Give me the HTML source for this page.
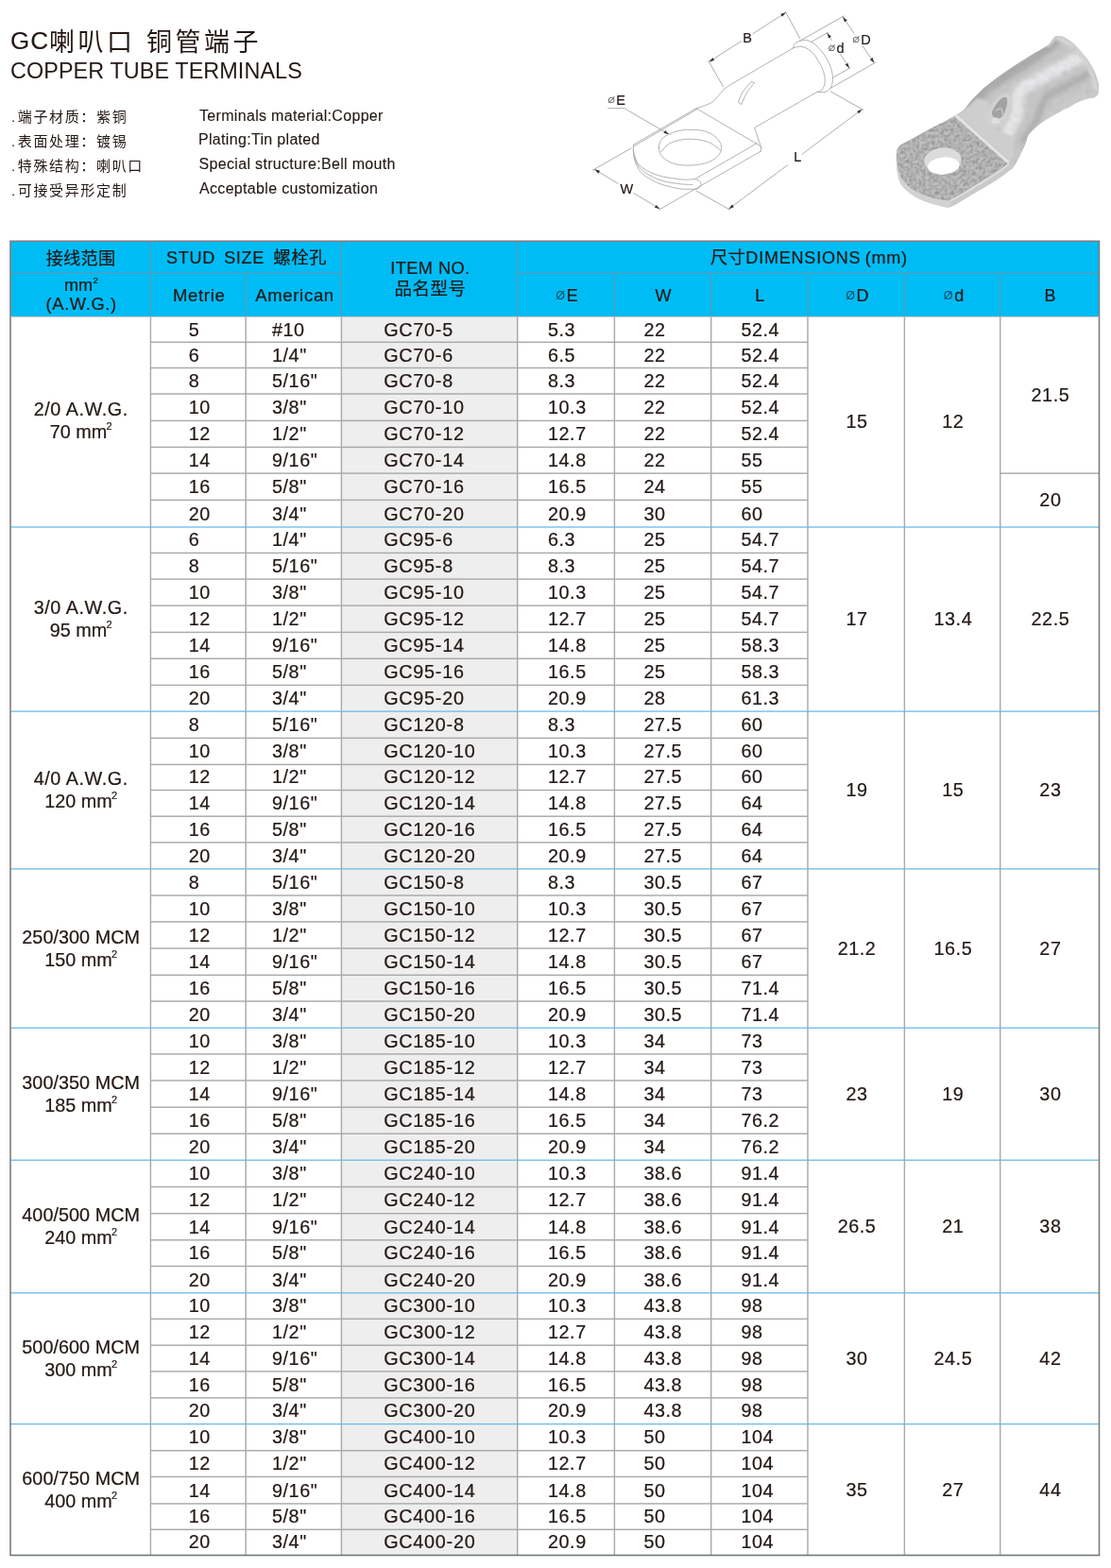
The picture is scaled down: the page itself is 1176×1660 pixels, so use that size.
<!DOCTYPE html>
<html lang="zh-CN">
<head>
<meta charset="utf-8">
<title>GC喇叭口 铜管端子 COPPER TUBE TERMINALS</title>
<style>
html,body{margin:0;padding:0;background:#ffffff;}
body{width:1176px;height:1660px;position:relative;overflow:hidden;font-family:"Liberation Sans","Noto Sans CJK SC",sans-serif;color:#231815;}
svg.grid{position:absolute;left:0;top:0;}
.t{position:absolute;white-space:nowrap;line-height:1;-webkit-text-stroke:0.22px #231815;}
.c{font-size:19.8px;letter-spacing:0.55px;}
.h{font-size:18.5px;letter-spacing:0.7px;}
.t sup{font-size:11px;vertical-align:baseline;position:relative;top:-9.3px;letter-spacing:0;margin-left:-0.6px;line-height:0;}
.dia{font-size:12.5px;position:relative;top:-2px;margin-right:1.6px;letter-spacing:0;-webkit-text-stroke:0;color:#0d4a63;}
.dia2{font-size:9.5px;position:relative;top:-2px;margin-right:1.2px;letter-spacing:0;-webkit-text-stroke:0;color:#555;line-height:0;}
.cj{font-family:"Liberation Sans","Noto Sans CJK SC",sans-serif;line-height:0;-webkit-text-stroke:0;}
.dia,.t sup{line-height:0;}
</style>
</head>
<body>
<svg class="grid" width="1176" height="250" viewBox="0 0 1176 250" fill="none" stroke-linecap="round" stroke-linejoin="round">
<line x1="750.54" y1="65.48" x2="784.69" y2="43.55" stroke="#989898" stroke-width="0.8"/>
<line x1="796.88" y1="35.72" x2="831.84" y2="13.27" stroke="#989898" stroke-width="0.8"/>
<polygon points="750.54,65.48 756.17,63.88 754.34,61.02" fill="#3a3230"/>
<polygon points="831.84,13.27 826.21,14.86 828.04,17.72" fill="#3a3230"/>
<line x1="749.86" y1="64.29" x2="765.51" y2="91.84" stroke="#989898" stroke-width="0.8"/>
<line x1="831.16" y1="12.07" x2="846.80" y2="40.82" stroke="#989898" stroke-width="0.8"/>
<line x1="892.21" y1="17.86" x2="904.15" y2="35.43" stroke="#989898" stroke-width="0.8"/>
<line x1="912.77" y1="48.12" x2="925.37" y2="66.67" stroke="#989898" stroke-width="0.8"/>
<polygon points="892.21,17.86 893.95,23.44 896.76,21.53" fill="#3a3230"/>
<polygon points="925.37,66.67 923.63,61.08 920.82,62.99" fill="#3a3230"/>
<line x1="846.80" y1="43.20" x2="893.06" y2="17.01" stroke="#989898" stroke-width="0.8"/>
<line x1="879.46" y1="93.20" x2="926.39" y2="66.33" stroke="#989898" stroke-width="0.8"/>
<line x1="875.54" y1="34.86" x2="880.24" y2="42.35" stroke="#989898" stroke-width="0.8"/>
<line x1="889.63" y1="57.31" x2="899.01" y2="72.28" stroke="#989898" stroke-width="0.8"/>
<polygon points="875.54,34.86 877.08,40.51 879.96,38.70" fill="#3a3230"/>
<polygon points="899.01,72.28 897.48,66.63 894.60,68.44" fill="#3a3230"/>
<line x1="858.20" y1="44.73" x2="876.39" y2="34.35" stroke="#989898" stroke-width="0.8"/>
<line x1="882.01" y1="81.97" x2="899.86" y2="71.94" stroke="#989898" stroke-width="0.8"/>
<line x1="912.62" y1="115.65" x2="849.05" y2="163.19" stroke="#989898" stroke-width="0.8"/>
<line x1="833.51" y1="174.81" x2="771.36" y2="221.29" stroke="#989898" stroke-width="0.8"/>
<polygon points="912.62,115.65 907.12,117.64 909.15,120.36" fill="#3a3230"/>
<polygon points="771.36,221.29 776.86,219.30 774.83,216.58" fill="#3a3230"/>
<line x1="879.46" y1="96.94" x2="913.81" y2="116.33" stroke="#989898" stroke-width="0.8"/>
<line x1="737.35" y1="202.24" x2="772.38" y2="221.97" stroke="#989898" stroke-width="0.8"/>
<line x1="629.35" y1="179.29" x2="654.27" y2="194.41" stroke="#989898" stroke-width="0.8"/>
<line x1="670.88" y1="204.49" x2="698.57" y2="221.29" stroke="#989898" stroke-width="0.8"/>
<polygon points="629.35,179.29 633.26,183.64 635.02,180.74" fill="#3a3230"/>
<polygon points="698.57,221.29 694.67,216.93 692.90,219.84" fill="#3a3230"/>
<line x1="667.96" y1="157.01" x2="627.48" y2="180.14" stroke="#989898" stroke-width="0.8"/>
<line x1="805.37" y1="160.07" x2="697.55" y2="222.14" stroke="#a0a0a0" stroke-width="0.8"/>
<path d="M643.81,114.66 L660.82,114.66 L707.59,141.87" stroke="#989898" stroke-width="0.8" fill="none"/>
<polygon points="708.10,142.21 704.11,137.92 702.40,140.86" fill="#3a3230"/>
<line x1="670.51" y1="153.27" x2="737.01" y2="114.66" stroke="#a0a0a0" stroke-width="0.8"/>
<line x1="671.02" y1="154.80" x2="737.69" y2="115.68" stroke="#a0a0a0" stroke-width="0.8"/>
<line x1="737.01" y1="114.66" x2="800.61" y2="152.07" stroke="#a0a0a0" stroke-width="0.8"/>
<line x1="800.61" y1="152.07" x2="735.65" y2="189.49" stroke="#a0a0a0" stroke-width="0.8"/>
<path d="M670.51,153.27 C670.57,154.63 669.77,157.80 670.85,161.43 C671.93,165.06 672.69,171.01 676.97,175.03 C681.25,179.06 689.02,183.08 696.53,185.58 C704.04,188.07 715.52,189.35 722.04,190.00 C728.56,190.65 733.38,189.57 735.65,189.49" stroke="#a0a0a0" stroke-width="0.8" fill="none"/>
<path d="M735.65,189.49 C736.44,189.83 739.36,190.60 740.41,191.53 C741.46,192.47 741.94,193.94 741.94,195.10 C741.94,196.26 741.23,197.65 740.41,198.50 C739.59,199.35 737.57,199.92 737.01,200.20" stroke="#a0a0a0" stroke-width="0.8" fill="none"/>
<path d="M670.51,158.03 C670.74,160.01 670.37,165.68 671.87,169.93 C673.37,174.18 675.41,179.57 679.52,183.54 C683.63,187.51 690.01,191.05 696.53,193.74 C703.05,196.43 711.89,198.62 718.64,199.69 C725.39,200.77 733.95,200.12 737.01,200.20" stroke="#a0a0a0" stroke-width="0.8" fill="none"/>
<path d="M671.02,164.83 C672.15,167.10 673.57,174.24 677.82,178.44 C682.07,182.63 689.73,187.31 696.53,190.00 C703.33,192.69 712.55,193.68 718.64,194.59 C724.73,195.50 730.69,195.30 733.10,195.44" stroke="#a0a0a0" stroke-width="0.8" fill="none"/>
<path d="M697.38,156.33 C697.38,152.93 698.66,148.96 701.63,146.12 C704.61,143.29 710.42,140.79 715.24,139.32 C720.06,137.85 725.16,137.28 730.54,137.28 C735.93,137.28 742.73,137.70 747.55,139.32 C752.37,140.94 756.76,144.14 759.46,146.97 C762.15,149.81 763.71,153.21 763.71,156.33 C763.71,159.44 762.15,162.99 759.46,165.68 C756.76,168.37 752.37,170.92 747.55,172.48 C742.73,174.04 736.21,174.89 730.54,175.03 C724.88,175.18 718.36,174.75 713.54,173.33 C708.72,171.92 704.33,169.37 701.63,166.53 C698.94,163.70 697.38,159.73 697.38,156.33Z" stroke="#a0a0a0" stroke-width="0.8" fill="none"/>
<path d="M699.59,160.58 C701.07,159.16 704.69,154.20 708.44,152.07 C712.18,149.95 717.51,148.59 722.04,147.82 C726.58,147.06 730.83,146.97 735.65,147.48 C740.46,147.99 746.47,148.99 750.95,150.88 C755.43,152.78 760.59,157.55 762.52,158.88" stroke="#a0a0a0" stroke-width="0.8" fill="none"/>
<path d="M865.00,97.28 L798.67,135.20 L805.71,156.33 L805.37,160.07" stroke="#a0a0a0" stroke-width="0.8" fill="none"/>
<path d="M800.61,152.07 C801.12,152.36 802.82,153.01 803.67,153.78 C804.52,154.54 805.37,156.18 805.71,156.67" stroke="#a0a0a0" stroke-width="0.8" fill="none"/>
<path d="M737.01,114.66 C738.48,114.18 742.96,112.90 745.85,111.77 C748.74,110.63 751.80,109.73 754.35,107.86 C756.90,105.99 759.30,102.65 761.16,100.54 C763.02,98.44 763.65,96.97 765.51,95.24 C767.37,93.50 771.18,90.99 772.31,90.14 L840.00,50.68" stroke="#a0a0a0" stroke-width="0.8" fill="none"/>
<path d="M839.49,50.68 C839.91,49.83 840.20,46.94 842.04,45.58 C843.88,44.22 847.57,42.63 850.54,42.52 C853.52,42.40 856.64,42.86 859.90,44.90 C863.16,46.94 867.07,50.91 870.10,54.76 C873.13,58.62 876.20,63.55 878.10,68.03 C879.99,72.51 881.21,77.66 881.50,81.63 C881.78,85.60 880.93,89.29 879.80,91.84 C878.66,94.39 876.73,95.98 874.69,96.94 C872.65,97.90 869.17,97.56 867.55,97.62 C865.94,97.68 865.43,97.34 865.00,97.28" stroke="#a0a0a0" stroke-width="0.8" fill="none"/>
<path d="M840.00,50.68 C841.47,50.45 845.67,48.64 848.84,49.32 C852.02,50.00 855.93,51.87 859.05,54.76 C862.17,57.65 865.34,62.76 867.55,66.67 C869.76,70.58 871.41,74.60 872.31,78.23 C873.22,81.86 873.36,85.66 872.99,88.44 C872.62,91.21 871.29,93.42 870.10,94.90 C868.91,96.37 866.56,96.88 865.85,97.28" stroke="#a0a0a0" stroke-width="0.8" fill="none"/>
<path d="M781.67,107.99 C782.38,106.29 783.65,101.39 785.92,97.79 C788.19,94.19 793.71,88.29 795.27,86.39 L798.67,87.59  C797.26,89.43 792.44,94.87 790.17,98.64 C787.90,102.41 785.92,108.28 785.07,110.20Z" stroke="#a0a0a0" stroke-width="0.8" fill="none"/>
</svg>
<svg class="grid" width="1176" height="250" viewBox="0 0 1176 250">
<defs>
<filter id="pb" x="-5%" y="-5%" width="110%" height="110%"><feGaussianBlur stdDeviation="0.55"/></filter>
<filter id="pb1" x="-20%" y="-20%" width="140%" height="140%"><feGaussianBlur stdDeviation="1.1"/></filter>
<filter id="pb2" x="-30%" y="-30%" width="160%" height="160%"><feGaussianBlur stdDeviation="2.4"/></filter>
<filter id="pn" x="0" y="0" width="100%" height="100%" color-interpolation-filters="sRGB">
 <feTurbulence type="fractalNoise" baseFrequency="0.3" numOctaves="2" seed="11"/>
 <feColorMatrix type="matrix" values="0 0 0 0 0.56  0 0 0 0 0.56  0 0 0 0 0.56  1.5 1.5 0 0 -1.15"/>
 <feGaussianBlur stdDeviation="0.5"/>
</filter>
<filter id="pnl" x="0" y="0" width="100%" height="100%" color-interpolation-filters="sRGB">
 <feTurbulence type="fractalNoise" baseFrequency="0.2" numOctaves="2" seed="29"/>
 <feColorMatrix type="matrix" values="0 0 0 0 0.86  0 0 0 0 0.86  0 0 0 0 0.86  -1.6 -1.6 0 0 1.35"/>
 <feGaussianBlur stdDeviation="0.6"/>
</filter>
<filter id="pn2" x="0" y="0" width="100%" height="100%" color-interpolation-filters="sRGB">
 <feTurbulence type="fractalNoise" baseFrequency="0.2" numOctaves="2" seed="5"/>
 <feColorMatrix type="matrix" values="0 0 0 0 0.6  0 0 0 0 0.6  0 0 0 0 0.6  1.3 1.3 0 0 -1.1"/>
 <feGaussianBlur stdDeviation="0.8"/>
</filter>
<linearGradient id="pgb" gradientUnits="userSpaceOnUse" x1="1090" y1="62" x2="1126" y2="122">
 <stop offset="0" stop-color="#bcbcbc"/><stop offset="0.22" stop-color="#bababa"/>
 <stop offset="0.45" stop-color="#dcdcde"/><stop offset="0.6" stop-color="#d4d4d6"/>
 <stop offset="0.75" stop-color="#bdbdbd"/><stop offset="1" stop-color="#c8c8c8"/>
</linearGradient>
<clipPath id="pc"><path d="M1011.4,122.1 C1008.3,124.1 1005.1,125.8 1001.2,127.9 C997.4,129.9 992.7,132.0 988.5,134.2 C984.2,136.5 980.0,138.9 975.7,141.2 C971.5,143.6 966.7,146.2 963.0,148.3 C959.2,150.3 955.6,152.0 953.4,153.6 C951.2,155.3 950.4,155.9 949.6,158.2 C948.8,160.5 948.7,163.5 948.7,167.4 C948.7,171.3 949.1,177.2 949.7,181.4 C950.3,185.6 950.8,189.2 952.5,192.7 C954.2,196.1 956.9,199.2 960.2,202.1 C963.4,205.0 967.8,207.8 971.9,210.0 C976.0,212.2 980.4,213.7 984.6,215.1 C988.9,216.5 993.9,217.7 997.4,218.4 C1000.9,219.1 1002.5,220.1 1005.7,219.3 C1008.9,218.5 1011.5,216.4 1016.5,213.6 C1021.5,210.7 1029.3,206.0 1035.7,202.1 C1042.0,198.2 1049.5,193.8 1054.8,190.4 C1060.1,186.9 1064.4,183.9 1067.6,181.4 C1070.7,179.0 1070.8,180.2 1073.7,175.6 C1076.6,171.0 1082.2,159.5 1084.8,153.9 C1087.4,148.3 1086.3,145.9 1089.4,141.8 C1092.6,137.6 1097.1,133.7 1103.6,129.2 C1110.2,124.7 1124.7,116.8 1128.7,114.6 C1132.8,112.3 1126.0,116.7 1128.0,115.7 C1130.0,114.6 1137.0,110.1 1140.8,108.3 C1144.6,106.4 1148.0,105.3 1151.0,104.4 C1154.0,103.5 1156.8,103.7 1158.7,102.9 C1160.5,102.1 1161.2,101.3 1162.0,99.7 C1162.7,98.1 1163.2,95.6 1163.2,93.3 C1163.3,91.1 1163.0,89.2 1162.2,86.3 C1161.5,83.5 1160.3,79.7 1158.7,76.1 C1157.0,72.5 1154.8,68.5 1152.3,64.6 C1149.7,60.8 1146.3,56.5 1143.3,53.2 C1140.4,49.8 1137.4,46.8 1134.4,44.5 C1131.4,42.2 1128.3,40.2 1125.5,39.1 C1122.7,38.1 1119.5,37.7 1117.6,38.2 C1115.7,38.8 1115.3,40.7 1114.0,42.3 C1112.7,43.9 1111.5,46.2 1109.5,47.8 C1107.6,49.4 1105.8,50.2 1102.5,52.1 C1099.2,54.1 1094.0,57.0 1089.8,59.5 C1085.5,62.1 1081.3,64.7 1077.0,67.4 C1072.8,70.2 1068.5,73.1 1064.3,76.1 C1060.0,79.1 1055.8,82.1 1051.5,85.3 C1047.3,88.5 1040.9,93.8 1038.8,95.5 C1036.6,97.2 1040.5,94.0 1038.8,95.7 C1037.0,97.5 1031.5,102.8 1028.3,106.2 C1025.2,109.6 1022.8,113.6 1020.0,116.2 C1017.1,118.9 1014.6,120.2 1011.4,122.1Z"/></clipPath>
<clipPath id="pcp"><path d="M1011.4,122.1 C1009.7,123.1 1005.1,125.8 1001.2,127.9 C997.4,129.9 992.7,132.0 988.5,134.2 C984.2,136.5 980.0,138.9 975.7,141.2 C971.5,143.6 966.7,146.2 963.0,148.3 C959.2,150.3 955.6,152.0 953.4,153.6 C951.2,155.3 950.2,157.4 949.6,158.2  C949.5,159.9 948.9,164.4 949.2,168.0 C949.4,171.7 949.9,176.3 951.0,180.2 C952.1,184.0 953.1,187.6 955.8,191.1 C958.6,194.7 962.8,198.7 967.4,201.6 C972.0,204.5 978.4,206.8 983.4,208.5 C988.4,210.2 993.6,211.1 997.4,211.8 C1001.2,212.4 1004.6,212.3 1006.1,212.4 L1021.6,203.8 L1042.0,191.4 L1058.6,180.9 L1067.9,173.4Z"/></clipPath>
</defs>
<g filter="url(#pb)">
<path d="M1011.4,122.1 C1008.3,124.1 1005.1,125.8 1001.2,127.9 C997.4,129.9 992.7,132.0 988.5,134.2 C984.2,136.5 980.0,138.9 975.7,141.2 C971.5,143.6 966.7,146.2 963.0,148.3 C959.2,150.3 955.6,152.0 953.4,153.6 C951.2,155.3 950.4,155.9 949.6,158.2 C948.8,160.5 948.7,163.5 948.7,167.4 C948.7,171.3 949.1,177.2 949.7,181.4 C950.3,185.6 950.8,189.2 952.5,192.7 C954.2,196.1 956.9,199.2 960.2,202.1 C963.4,205.0 967.8,207.8 971.9,210.0 C976.0,212.2 980.4,213.7 984.6,215.1 C988.9,216.5 993.9,217.7 997.4,218.4 C1000.9,219.1 1002.5,220.1 1005.7,219.3 C1008.9,218.5 1011.5,216.4 1016.5,213.6 C1021.5,210.7 1029.3,206.0 1035.7,202.1 C1042.0,198.2 1049.5,193.8 1054.8,190.4 C1060.1,186.9 1064.4,183.9 1067.6,181.4 C1070.7,179.0 1070.8,180.2 1073.7,175.6 C1076.6,171.0 1082.2,159.5 1084.8,153.9 C1087.4,148.3 1086.3,145.9 1089.4,141.8 C1092.6,137.6 1097.1,133.7 1103.6,129.2 C1110.2,124.7 1124.7,116.8 1128.7,114.6 C1132.8,112.3 1126.0,116.7 1128.0,115.7 C1130.0,114.6 1137.0,110.1 1140.8,108.3 C1144.6,106.4 1148.0,105.3 1151.0,104.4 C1154.0,103.5 1156.8,103.7 1158.7,102.9 C1160.5,102.1 1161.2,101.3 1162.0,99.7 C1162.7,98.1 1163.2,95.6 1163.2,93.3 C1163.3,91.1 1163.0,89.2 1162.2,86.3 C1161.5,83.5 1160.3,79.7 1158.7,76.1 C1157.0,72.5 1154.8,68.5 1152.3,64.6 C1149.7,60.8 1146.3,56.5 1143.3,53.2 C1140.4,49.8 1137.4,46.8 1134.4,44.5 C1131.4,42.2 1128.3,40.2 1125.5,39.1 C1122.7,38.1 1119.5,37.7 1117.6,38.2 C1115.7,38.8 1115.3,40.7 1114.0,42.3 C1112.7,43.9 1111.5,46.2 1109.5,47.8 C1107.6,49.4 1105.8,50.2 1102.5,52.1 C1099.2,54.1 1094.0,57.0 1089.8,59.5 C1085.5,62.1 1081.3,64.7 1077.0,67.4 C1072.8,70.2 1068.5,73.1 1064.3,76.1 C1060.0,79.1 1055.8,82.1 1051.5,85.3 C1047.3,88.5 1040.9,93.8 1038.8,95.5 C1036.6,97.2 1040.5,94.0 1038.8,95.7 C1037.0,97.5 1031.5,102.8 1028.3,106.2 C1025.2,109.6 1022.8,113.6 1020.0,116.2 C1017.1,118.9 1014.6,120.2 1011.4,122.1Z" fill="#cbcbcb"/>
<g clip-path="url(#pc)">
<path d="M1011.4,122.1 C1008.3,124.1 1005.1,125.8 1001.2,127.9 C997.4,129.9 992.7,132.0 988.5,134.2 C984.2,136.5 980.0,138.9 975.7,141.2 C971.5,143.6 966.7,146.2 963.0,148.3 C959.2,150.3 955.6,152.0 953.4,153.6 C951.2,155.3 950.4,155.9 949.6,158.2 C948.8,160.5 948.7,163.5 948.7,167.4 C948.7,171.3 949.1,177.2 949.7,181.4 C950.3,185.6 950.8,189.2 952.5,192.7 C954.2,196.1 956.9,199.2 960.2,202.1 C963.4,205.0 967.8,207.8 971.9,210.0 C976.0,212.2 980.4,213.7 984.6,215.1 C988.9,216.5 993.9,217.7 997.4,218.4 C1000.9,219.1 1002.5,220.1 1005.7,219.3 C1008.9,218.5 1011.5,216.4 1016.5,213.6 C1021.5,210.7 1029.3,206.0 1035.7,202.1 C1042.0,198.2 1049.5,193.8 1054.8,190.4 C1060.1,186.9 1064.4,183.9 1067.6,181.4 C1070.7,179.0 1070.8,180.2 1073.7,175.6 C1076.6,171.0 1082.2,159.5 1084.8,153.9 C1087.4,148.3 1086.3,145.9 1089.4,141.8 C1092.6,137.6 1097.1,133.7 1103.6,129.2 C1110.2,124.7 1124.7,116.8 1128.7,114.6 C1132.8,112.3 1126.0,116.7 1128.0,115.7 C1130.0,114.6 1137.0,110.1 1140.8,108.3 C1144.6,106.4 1148.0,105.3 1151.0,104.4 C1154.0,103.5 1156.8,103.7 1158.7,102.9 C1160.5,102.1 1161.2,101.3 1162.0,99.7 C1162.7,98.1 1163.2,95.6 1163.2,93.3 C1163.3,91.1 1163.0,89.2 1162.2,86.3 C1161.5,83.5 1160.3,79.7 1158.7,76.1 C1157.0,72.5 1154.8,68.5 1152.3,64.6 C1149.7,60.8 1146.3,56.5 1143.3,53.2 C1140.4,49.8 1137.4,46.8 1134.4,44.5 C1131.4,42.2 1128.3,40.2 1125.5,39.1 C1122.7,38.1 1119.5,37.7 1117.6,38.2 C1115.7,38.8 1115.3,40.7 1114.0,42.3 C1112.7,43.9 1111.5,46.2 1109.5,47.8 C1107.6,49.4 1105.8,50.2 1102.5,52.1 C1099.2,54.1 1094.0,57.0 1089.8,59.5 C1085.5,62.1 1081.3,64.7 1077.0,67.4 C1072.8,70.2 1068.5,73.1 1064.3,76.1 C1060.0,79.1 1055.8,82.1 1051.5,85.3 C1047.3,88.5 1040.9,93.8 1038.8,95.5 C1036.6,97.2 1040.5,94.0 1038.8,95.7 C1037.0,97.5 1031.5,102.8 1028.3,106.2 C1025.2,109.6 1022.8,113.6 1020.0,116.2 C1017.1,118.9 1014.6,120.2 1011.4,122.1Z" fill="#c8c8c8"/>
<path d="M1028.3,112.1 C1030.5,109.3 1035.3,100.6 1041.3,95.3 C1047.3,89.9 1056.2,85.3 1064.3,79.9 C1072.3,74.6 1081.3,69.1 1089.8,63.4 C1098.3,57.6 1111.0,48.5 1115.3,45.5" fill="none" stroke="#acacac" stroke-width="12" stroke-linecap="round" opacity="1" filter="url(#pb2)"/>
<path d="M1063.9,145.5 C1066.0,141.3 1073.8,128.6 1076.4,120.4 C1079.1,112.3 1074.8,103.1 1079.6,96.5 C1084.3,90.0 1097.0,85.9 1105.1,81.2 C1113.2,76.5 1121.5,72.1 1128.0,68.5 C1134.6,64.9 1141.9,61.0 1144.6,59.5" fill="none" stroke="#e9e9ec" stroke-width="13" stroke-linecap="round" opacity="1" filter="url(#pb2)"/>
<path d="M1082.7,149.7 C1085.2,145.9 1093.2,134.5 1097.4,126.7 C1101.5,118.9 1102.5,108.8 1107.6,102.9 C1112.7,97.0 1120.4,95.7 1128.0,91.4 C1135.7,87.2 1149.3,79.7 1153.6,77.4" fill="none" stroke="#adadad" stroke-width="6" stroke-linecap="round" opacity="1" filter="url(#pb2)"/>
<path d="M1089.0,153.9 C1091.8,150.4 1101.4,138.9 1105.7,133.0 C1110.1,127.0 1109.4,123.0 1115.3,118.2 C1121.1,113.4 1133.6,107.8 1140.8,104.2 C1148.0,100.6 1155.7,97.8 1158.7,96.5" fill="none" stroke="#cdcdcd" stroke-width="7" stroke-linecap="round" opacity="1" filter="url(#pb2)"/>
<path d="M1120.4,40.4 C1122.9,41.8 1131.2,45.1 1135.7,48.7 C1140.2,52.3 1143.8,57.1 1147.2,62.1 C1150.6,67.1 1153.9,73.1 1156.1,78.7 C1158.3,84.2 1159.5,92.5 1160.2,95.3" fill="none" stroke="#d6d6d6" stroke-width="5" stroke-linecap="round" opacity="1" filter="url(#pb1)"/>
<path d="M1117.6,39.1 C1117.0,39.9 1115.3,42.0 1114.0,43.6 C1112.7,45.2 1110.3,47.8 1109.5,48.7" fill="none" stroke="#d8d8d8" stroke-width="3" stroke-linecap="round" opacity="1" filter="url(#pb1)"/>
<g opacity="0.26"><rect x="1010" y="30" width="166" height="150" fill="#888" filter="url(#pn2)"/></g>
<path d="M1011.4,122.1 C1009.7,123.1 1005.1,125.8 1001.2,127.9 C997.4,129.9 992.7,132.0 988.5,134.2 C984.2,136.5 980.0,138.9 975.7,141.2 C971.5,143.6 966.7,146.2 963.0,148.3 C959.2,150.3 955.6,152.0 953.4,153.6 C951.2,155.3 950.2,157.4 949.6,158.2  C949.5,159.9 948.9,164.4 949.2,168.0 C949.4,171.7 949.9,176.3 951.0,180.2 C952.1,184.0 953.1,187.6 955.8,191.1 C958.6,194.7 962.8,198.7 967.4,201.6 C972.0,204.5 978.4,206.8 983.4,208.5 C988.4,210.2 993.6,211.1 997.4,211.8 C1001.2,212.4 1004.6,212.3 1006.1,212.4 L1021.6,203.8 L1042.0,191.4 L1058.6,180.9 L1067.9,173.4Z" fill="#bebebe"/>
<g clip-path="url(#pcp)">
<g opacity="0.85"><rect x="940" y="115" width="150" height="115" filter="url(#pn)"/></g>
<g opacity="0.38"><rect x="940" y="115" width="150" height="115" filter="url(#pnl)"/></g>
</g>
<path d="M949.2,168.0 C949.5,170.1 949.9,176.3 951.0,180.2 C952.1,184.0 953.1,187.6 955.8,191.1 C958.6,194.7 962.8,198.7 967.4,201.6 C972.0,204.5 978.4,206.8 983.4,208.5 C988.4,210.2 993.6,211.1 997.4,211.8 C1001.2,212.4 1004.6,212.3 1006.1,212.4 L1005.7,221.0 L971.9,214.6 L948.9,198.0 L946.4,168.0Z" fill="#d2d2d2"/>
<path d="M1006.1,212.6 L1067.9,173.5 L1074.6,176.3 L1005.7,221.0Z" fill="#cacaca"/>
<path d="M1006.1,212.6 C1008.7,211.1 1015.6,207.4 1021.6,203.9 C1027.6,200.4 1035.9,195.3 1042.0,191.5 C1048.2,187.7 1054.3,184.0 1058.6,181.0 C1062.9,178.0 1066.4,174.8 1067.9,173.5" fill="none" stroke="#e2e2e2" stroke-width="1.5"/>
<path d="M1013.3,122.8 L1022.1,115.2 L1034.6,103.7 L1047.2,107.9 L1047.2,133.0 L1074.4,145.5 L1072.3,166.4 L1068.2,171.0Z" fill="#cecece" filter="url(#pb1)"/>
<path d="M1011.4,122.1 L1067.9,172.5" stroke="#e4e4e4" stroke-width="3" fill="none"/>
<ellipse cx="998.0" cy="169.9" rx="19.8" ry="13.5" fill="#dcdcde" transform="rotate(-4 998.0 169.9)"/>
<ellipse cx="998.7" cy="175.6" rx="16.7" ry="9.2" fill="#ffffff" transform="rotate(-5 998.7 175.6)"/>
<path d="M1044.3,122.0 C1045.8,118.3 1049.2,110.7 1052.5,106.8 C1055.8,102.9 1061.4,99.0 1064.3,98.6 C1067.2,98.2 1069.5,100.9 1070.1,104.4 C1070.7,107.9 1069.2,115.0 1067.8,119.7 C1066.4,124.4 1064.8,130.1 1061.9,132.6 C1059.0,135.1 1053.2,135.5 1050.2,134.9 C1047.2,134.3 1044.6,131.2 1043.6,129.1 C1042.6,126.9 1042.8,125.7 1044.3,122.0Z" fill="#d2d2d2" filter="url(#pb1)"/>
<path d="M1050.2,118.5 C1051.1,115.7 1054.9,109.4 1057.2,106.8 C1059.5,104.2 1062.8,102.6 1064.3,102.8 C1065.8,103.0 1066.4,105.2 1066.2,108.0 C1066.0,110.8 1064.5,116.8 1063.1,119.7 C1061.7,122.6 1059.5,124.9 1057.7,125.6 C1055.9,126.3 1053.3,125.1 1052.1,123.9 C1050.8,122.7 1049.3,121.3 1050.2,118.5Z" fill="#a2a2a2" filter="url(#pb)"/>
<path d="M1053.7,117.3 C1054.7,116.9 1058.2,114.2 1059.6,115.0 C1061.0,115.8 1061.5,120.8 1061.9,122.0" fill="none" stroke="#c4c4c4" stroke-width="1.6" filter="url(#pb)"/>
<ellipse cx="1053.7" cy="127.9" rx="4.6" ry="3.4" fill="#dedede" filter="url(#pb)"/>
</g>
</g>
</svg>
<svg class="grid" width="1176" height="1660" viewBox="0 0 1176 1660" shape-rendering="crispEdges">
<rect x="11.00" y="255.30" width="1152.50" height="79.70" fill="#00bcf5"/>
<rect x="361.40" y="335.00" width="186.30" height="1311.50" fill="#eeeeee"/>
</svg>
<svg class="grid" width="1176" height="1660" viewBox="0 0 1176 1660">
<rect x="11.00" y="288.50" width="350.40" height="1.20" fill="#5f98b0"/>
<rect x="547.70" y="288.50" width="615.80" height="1.20" fill="#5f98b0"/>
<rect x="158.80" y="255.30" width="1.20" height="79.70" fill="#5f98b0"/>
<rect x="360.80" y="255.30" width="1.20" height="79.70" fill="#5f98b0"/>
<rect x="547.10" y="255.30" width="1.20" height="79.70" fill="#5f98b0"/>
<rect x="259.60" y="289.10" width="1.20" height="45.90" fill="#5f98b0"/>
<rect x="649.80" y="289.10" width="1.20" height="45.90" fill="#5f98b0"/>
<rect x="752.10" y="289.10" width="1.20" height="45.90" fill="#5f98b0"/>
<rect x="854.40" y="289.10" width="1.20" height="45.90" fill="#5f98b0"/>
<rect x="956.80" y="289.10" width="1.20" height="45.90" fill="#5f98b0"/>
<rect x="1058.10" y="289.10" width="1.20" height="45.90" fill="#5f98b0"/>
<rect x="158.68" y="335.00" width="1.45" height="1311.50" fill="#aaaaaa"/>
<rect x="259.47" y="335.00" width="1.45" height="1311.50" fill="#aaaaaa"/>
<rect x="360.67" y="335.00" width="1.45" height="1311.50" fill="#aaaaaa"/>
<rect x="546.98" y="335.00" width="1.45" height="1311.50" fill="#aaaaaa"/>
<rect x="649.67" y="335.00" width="1.45" height="1311.50" fill="#aaaaaa"/>
<rect x="751.98" y="335.00" width="1.45" height="1311.50" fill="#aaaaaa"/>
<rect x="854.27" y="335.00" width="1.45" height="1311.50" fill="#aaaaaa"/>
<rect x="956.67" y="335.00" width="1.45" height="1311.50" fill="#aaaaaa"/>
<rect x="1057.98" y="335.00" width="1.45" height="1311.50" fill="#aaaaaa"/>
<rect x="159.40" y="361.57" width="695.60" height="1.45" fill="#aaaaaa"/>
<rect x="159.40" y="388.77" width="695.60" height="1.45" fill="#aaaaaa"/>
<rect x="159.40" y="416.27" width="695.60" height="1.45" fill="#aaaaaa"/>
<rect x="159.40" y="444.67" width="695.60" height="1.45" fill="#aaaaaa"/>
<rect x="159.40" y="472.67" width="695.60" height="1.45" fill="#aaaaaa"/>
<rect x="159.40" y="500.38" width="695.60" height="1.45" fill="#aaaaaa"/>
<rect x="159.40" y="528.67" width="695.60" height="1.45" fill="#aaaaaa"/>
<rect x="1058.70" y="500.38" width="104.80" height="1.45" fill="#aaaaaa"/>
<rect x="159.40" y="584.67" width="695.60" height="1.45" fill="#aaaaaa"/>
<rect x="159.40" y="612.38" width="695.60" height="1.45" fill="#aaaaaa"/>
<rect x="159.40" y="640.38" width="695.60" height="1.45" fill="#aaaaaa"/>
<rect x="159.40" y="668.67" width="695.60" height="1.45" fill="#aaaaaa"/>
<rect x="159.40" y="696.57" width="695.60" height="1.45" fill="#aaaaaa"/>
<rect x="159.40" y="724.67" width="695.60" height="1.45" fill="#aaaaaa"/>
<rect x="159.40" y="780.67" width="695.60" height="1.45" fill="#aaaaaa"/>
<rect x="159.40" y="808.67" width="695.60" height="1.45" fill="#aaaaaa"/>
<rect x="159.40" y="835.77" width="695.60" height="1.45" fill="#aaaaaa"/>
<rect x="159.40" y="863.48" width="695.60" height="1.45" fill="#aaaaaa"/>
<rect x="159.40" y="891.17" width="695.60" height="1.45" fill="#aaaaaa"/>
<rect x="159.40" y="947.27" width="695.60" height="1.45" fill="#aaaaaa"/>
<rect x="159.40" y="975.17" width="695.60" height="1.45" fill="#aaaaaa"/>
<rect x="159.40" y="1003.27" width="695.60" height="1.45" fill="#aaaaaa"/>
<rect x="159.40" y="1031.58" width="695.60" height="1.45" fill="#aaaaaa"/>
<rect x="159.40" y="1059.28" width="695.60" height="1.45" fill="#aaaaaa"/>
<rect x="159.40" y="1115.18" width="695.60" height="1.45" fill="#aaaaaa"/>
<rect x="159.40" y="1143.18" width="695.60" height="1.45" fill="#aaaaaa"/>
<rect x="159.40" y="1171.48" width="695.60" height="1.45" fill="#aaaaaa"/>
<rect x="159.40" y="1199.48" width="695.60" height="1.45" fill="#aaaaaa"/>
<rect x="159.40" y="1255.78" width="695.60" height="1.45" fill="#aaaaaa"/>
<rect x="159.40" y="1283.98" width="695.60" height="1.45" fill="#aaaaaa"/>
<rect x="159.40" y="1312.08" width="695.60" height="1.45" fill="#aaaaaa"/>
<rect x="159.40" y="1339.78" width="695.60" height="1.45" fill="#aaaaaa"/>
<rect x="159.40" y="1395.58" width="695.60" height="1.45" fill="#aaaaaa"/>
<rect x="159.40" y="1423.48" width="695.60" height="1.45" fill="#aaaaaa"/>
<rect x="159.40" y="1451.18" width="695.60" height="1.45" fill="#aaaaaa"/>
<rect x="159.40" y="1479.18" width="695.60" height="1.45" fill="#aaaaaa"/>
<rect x="159.40" y="1534.98" width="695.60" height="1.45" fill="#aaaaaa"/>
<rect x="159.40" y="1562.68" width="695.60" height="1.45" fill="#aaaaaa"/>
<rect x="159.40" y="1591.18" width="695.60" height="1.45" fill="#aaaaaa"/>
<rect x="159.40" y="1618.58" width="695.60" height="1.45" fill="#aaaaaa"/>
<rect x="11.00" y="557.38" width="1152.50" height="1.25" fill="#66b9e7"/>
<rect x="11.00" y="752.48" width="1152.50" height="1.25" fill="#66b9e7"/>
<rect x="11.00" y="919.27" width="1152.50" height="1.25" fill="#66b9e7"/>
<rect x="11.00" y="1087.58" width="1152.50" height="1.25" fill="#66b9e7"/>
<rect x="11.00" y="1227.58" width="1152.50" height="1.25" fill="#66b9e7"/>
<rect x="11.00" y="1368.17" width="1152.50" height="1.25" fill="#66b9e7"/>
<rect x="11.00" y="1506.97" width="1152.50" height="1.25" fill="#66b9e7"/>
<rect x="10.28" y="254.50" width="1153.95" height="1.60" fill="#7d7d7d"/>
<rect x="10.28" y="1645.70" width="1153.95" height="1.60" fill="#6f777b"/>
<rect x="10.20" y="255.30" width="1.60" height="1391.20" fill="#7d7d7d"/>
<rect x="1162.70" y="255.30" width="1.60" height="1391.20" fill="#7d7d7d"/>
<rect x="11.00" y="334.85" width="1152.50" height="0.90" fill="#b8b4b4"/>
</svg>
<div class="t c" style="top:424px;left:-114.30px;width:400px;text-align:center;letter-spacing:0.55px;">2/0 A.W.G.</div>
<div class="t c" style="top:448px;left:-114.30px;width:400px;text-align:center;letter-spacing:0px;">70 mm<sup>2</sup></div>
<div class="t c" style="top:340px;left:199.70px;">5</div>
<div class="t c" style="top:340px;left:288.00px;">#10</div>
<div class="t c" style="top:340px;left:406.20px;letter-spacing:0.75px;">GC70-5</div>
<div class="t c" style="top:340px;left:580.00px;">5.3</div>
<div class="t c" style="top:340px;left:681.40px;">22</div>
<div class="t c" style="top:340px;left:784.40px;">52.4</div>
<div class="t c" style="top:367px;left:199.70px;">6</div>
<div class="t c" style="top:367px;left:288.00px;">1/4&quot;</div>
<div class="t c" style="top:367px;left:406.20px;letter-spacing:0.75px;">GC70-6</div>
<div class="t c" style="top:367px;left:580.00px;">6.5</div>
<div class="t c" style="top:367px;left:681.40px;">22</div>
<div class="t c" style="top:367px;left:784.40px;">52.4</div>
<div class="t c" style="top:394px;left:199.70px;">8</div>
<div class="t c" style="top:394px;left:288.00px;">5/16&quot;</div>
<div class="t c" style="top:394px;left:406.20px;letter-spacing:0.75px;">GC70-8</div>
<div class="t c" style="top:394px;left:580.00px;">8.3</div>
<div class="t c" style="top:394px;left:681.40px;">22</div>
<div class="t c" style="top:394px;left:784.40px;">52.4</div>
<div class="t c" style="top:422px;left:199.70px;">10</div>
<div class="t c" style="top:422px;left:288.00px;">3/8&quot;</div>
<div class="t c" style="top:422px;left:406.20px;letter-spacing:0.75px;">GC70-10</div>
<div class="t c" style="top:422px;left:580.00px;">10.3</div>
<div class="t c" style="top:422px;left:681.40px;">22</div>
<div class="t c" style="top:422px;left:784.40px;">52.4</div>
<div class="t c" style="top:450px;left:199.70px;">12</div>
<div class="t c" style="top:450px;left:288.00px;">1/2&quot;</div>
<div class="t c" style="top:450px;left:406.20px;letter-spacing:0.75px;">GC70-12</div>
<div class="t c" style="top:450px;left:580.00px;">12.7</div>
<div class="t c" style="top:450px;left:681.40px;">22</div>
<div class="t c" style="top:450px;left:784.40px;">52.4</div>
<div class="t c" style="top:478px;left:199.70px;">14</div>
<div class="t c" style="top:478px;left:288.00px;">9/16&quot;</div>
<div class="t c" style="top:478px;left:406.20px;letter-spacing:0.75px;">GC70-14</div>
<div class="t c" style="top:478px;left:580.00px;">14.8</div>
<div class="t c" style="top:478px;left:681.40px;">22</div>
<div class="t c" style="top:478px;left:784.40px;">55</div>
<div class="t c" style="top:506px;left:199.70px;">16</div>
<div class="t c" style="top:506px;left:288.00px;">5/8&quot;</div>
<div class="t c" style="top:506px;left:406.20px;letter-spacing:0.75px;">GC70-16</div>
<div class="t c" style="top:506px;left:580.00px;">16.5</div>
<div class="t c" style="top:506px;left:681.40px;">24</div>
<div class="t c" style="top:506px;left:784.40px;">55</div>
<div class="t c" style="top:535px;left:199.70px;">20</div>
<div class="t c" style="top:535px;left:288.00px;">3/4&quot;</div>
<div class="t c" style="top:535px;left:406.20px;letter-spacing:0.75px;">GC70-20</div>
<div class="t c" style="top:535px;left:580.00px;">20.9</div>
<div class="t c" style="top:535px;left:681.40px;">30</div>
<div class="t c" style="top:535px;left:784.40px;">60</div>
<div class="t c" style="top:437px;left:707.00px;width:400px;text-align:center;">15</div>
<div class="t c" style="top:437px;left:808.85px;width:400px;text-align:center;">12</div>
<div class="t c" style="top:409px;left:911.90px;width:400px;text-align:center;">21.5</div>
<div class="t c" style="top:520px;left:911.90px;width:400px;text-align:center;">20</div>
<div class="t c" style="top:634px;left:-114.30px;width:400px;text-align:center;letter-spacing:0.55px;">3/0 A.W.G.</div>
<div class="t c" style="top:658px;left:-114.30px;width:400px;text-align:center;letter-spacing:0px;">95 mm<sup>2</sup></div>
<div class="t c" style="top:562px;left:199.70px;">6</div>
<div class="t c" style="top:562px;left:288.00px;">1/4&quot;</div>
<div class="t c" style="top:562px;left:406.20px;letter-spacing:0.75px;">GC95-6</div>
<div class="t c" style="top:562px;left:580.00px;">6.3</div>
<div class="t c" style="top:562px;left:681.40px;">25</div>
<div class="t c" style="top:562px;left:784.40px;">54.7</div>
<div class="t c" style="top:590px;left:199.70px;">8</div>
<div class="t c" style="top:590px;left:288.00px;">5/16&quot;</div>
<div class="t c" style="top:590px;left:406.20px;letter-spacing:0.75px;">GC95-8</div>
<div class="t c" style="top:590px;left:580.00px;">8.3</div>
<div class="t c" style="top:590px;left:681.40px;">25</div>
<div class="t c" style="top:590px;left:784.40px;">54.7</div>
<div class="t c" style="top:618px;left:199.70px;">10</div>
<div class="t c" style="top:618px;left:288.00px;">3/8&quot;</div>
<div class="t c" style="top:618px;left:406.20px;letter-spacing:0.75px;">GC95-10</div>
<div class="t c" style="top:618px;left:580.00px;">10.3</div>
<div class="t c" style="top:618px;left:681.40px;">25</div>
<div class="t c" style="top:618px;left:784.40px;">54.7</div>
<div class="t c" style="top:646px;left:199.70px;">12</div>
<div class="t c" style="top:646px;left:288.00px;">1/2&quot;</div>
<div class="t c" style="top:646px;left:406.20px;letter-spacing:0.75px;">GC95-12</div>
<div class="t c" style="top:646px;left:580.00px;">12.7</div>
<div class="t c" style="top:646px;left:681.40px;">25</div>
<div class="t c" style="top:646px;left:784.40px;">54.7</div>
<div class="t c" style="top:674px;left:199.70px;">14</div>
<div class="t c" style="top:674px;left:288.00px;">9/16&quot;</div>
<div class="t c" style="top:674px;left:406.20px;letter-spacing:0.75px;">GC95-14</div>
<div class="t c" style="top:674px;left:580.00px;">14.8</div>
<div class="t c" style="top:674px;left:681.40px;">25</div>
<div class="t c" style="top:674px;left:784.40px;">58.3</div>
<div class="t c" style="top:702px;left:199.70px;">16</div>
<div class="t c" style="top:702px;left:288.00px;">5/8&quot;</div>
<div class="t c" style="top:702px;left:406.20px;letter-spacing:0.75px;">GC95-16</div>
<div class="t c" style="top:702px;left:580.00px;">16.5</div>
<div class="t c" style="top:702px;left:681.40px;">25</div>
<div class="t c" style="top:702px;left:784.40px;">58.3</div>
<div class="t c" style="top:730px;left:199.70px;">20</div>
<div class="t c" style="top:730px;left:288.00px;">3/4&quot;</div>
<div class="t c" style="top:730px;left:406.20px;letter-spacing:0.75px;">GC95-20</div>
<div class="t c" style="top:730px;left:580.00px;">20.9</div>
<div class="t c" style="top:730px;left:681.40px;">28</div>
<div class="t c" style="top:730px;left:784.40px;">61.3</div>
<div class="t c" style="top:646px;left:707.00px;width:400px;text-align:center;">17</div>
<div class="t c" style="top:646px;left:808.85px;width:400px;text-align:center;">13.4</div>
<div class="t c" style="top:646px;left:911.90px;width:400px;text-align:center;">22.5</div>
<div class="t c" style="top:815px;left:-114.30px;width:400px;text-align:center;letter-spacing:0.55px;">4/0 A.W.G.</div>
<div class="t c" style="top:839px;left:-114.30px;width:400px;text-align:center;letter-spacing:0px;">120 mm<sup>2</sup></div>
<div class="t c" style="top:758px;left:199.70px;">8</div>
<div class="t c" style="top:758px;left:288.00px;">5/16&quot;</div>
<div class="t c" style="top:758px;left:406.20px;letter-spacing:0.75px;">GC120-8</div>
<div class="t c" style="top:758px;left:580.00px;">8.3</div>
<div class="t c" style="top:758px;left:681.40px;">27.5</div>
<div class="t c" style="top:758px;left:784.40px;">60</div>
<div class="t c" style="top:786px;left:199.70px;">10</div>
<div class="t c" style="top:786px;left:288.00px;">3/8&quot;</div>
<div class="t c" style="top:786px;left:406.20px;letter-spacing:0.75px;">GC120-10</div>
<div class="t c" style="top:786px;left:580.00px;">10.3</div>
<div class="t c" style="top:786px;left:681.40px;">27.5</div>
<div class="t c" style="top:786px;left:784.40px;">60</div>
<div class="t c" style="top:813px;left:199.70px;">12</div>
<div class="t c" style="top:813px;left:288.00px;">1/2&quot;</div>
<div class="t c" style="top:813px;left:406.20px;letter-spacing:0.75px;">GC120-12</div>
<div class="t c" style="top:813px;left:580.00px;">12.7</div>
<div class="t c" style="top:813px;left:681.40px;">27.5</div>
<div class="t c" style="top:813px;left:784.40px;">60</div>
<div class="t c" style="top:841px;left:199.70px;">14</div>
<div class="t c" style="top:841px;left:288.00px;">9/16&quot;</div>
<div class="t c" style="top:841px;left:406.20px;letter-spacing:0.75px;">GC120-14</div>
<div class="t c" style="top:841px;left:580.00px;">14.8</div>
<div class="t c" style="top:841px;left:681.40px;">27.5</div>
<div class="t c" style="top:841px;left:784.40px;">64</div>
<div class="t c" style="top:869px;left:199.70px;">16</div>
<div class="t c" style="top:869px;left:288.00px;">5/8&quot;</div>
<div class="t c" style="top:869px;left:406.20px;letter-spacing:0.75px;">GC120-16</div>
<div class="t c" style="top:869px;left:580.00px;">16.5</div>
<div class="t c" style="top:869px;left:681.40px;">27.5</div>
<div class="t c" style="top:869px;left:784.40px;">64</div>
<div class="t c" style="top:897px;left:199.70px;">20</div>
<div class="t c" style="top:897px;left:288.00px;">3/4&quot;</div>
<div class="t c" style="top:897px;left:406.20px;letter-spacing:0.75px;">GC120-20</div>
<div class="t c" style="top:897px;left:580.00px;">20.9</div>
<div class="t c" style="top:897px;left:681.40px;">27.5</div>
<div class="t c" style="top:897px;left:784.40px;">64</div>
<div class="t c" style="top:827px;left:707.00px;width:400px;text-align:center;">19</div>
<div class="t c" style="top:827px;left:808.85px;width:400px;text-align:center;">15</div>
<div class="t c" style="top:827px;left:911.90px;width:400px;text-align:center;">23</div>
<div class="t c" style="top:983px;left:-114.30px;width:400px;text-align:center;letter-spacing:0.05px;">250/300 MCM</div>
<div class="t c" style="top:1007px;left:-114.30px;width:400px;text-align:center;letter-spacing:0px;">150 mm<sup>2</sup></div>
<div class="t c" style="top:925px;left:199.70px;">8</div>
<div class="t c" style="top:925px;left:288.00px;">5/16&quot;</div>
<div class="t c" style="top:925px;left:406.20px;letter-spacing:0.75px;">GC150-8</div>
<div class="t c" style="top:925px;left:580.00px;">8.3</div>
<div class="t c" style="top:925px;left:681.40px;">30.5</div>
<div class="t c" style="top:925px;left:784.40px;">67</div>
<div class="t c" style="top:953px;left:199.70px;">10</div>
<div class="t c" style="top:953px;left:288.00px;">3/8&quot;</div>
<div class="t c" style="top:953px;left:406.20px;letter-spacing:0.75px;">GC150-10</div>
<div class="t c" style="top:953px;left:580.00px;">10.3</div>
<div class="t c" style="top:953px;left:681.40px;">30.5</div>
<div class="t c" style="top:953px;left:784.40px;">67</div>
<div class="t c" style="top:981px;left:199.70px;">12</div>
<div class="t c" style="top:981px;left:288.00px;">1/2&quot;</div>
<div class="t c" style="top:981px;left:406.20px;letter-spacing:0.75px;">GC150-12</div>
<div class="t c" style="top:981px;left:580.00px;">12.7</div>
<div class="t c" style="top:981px;left:681.40px;">30.5</div>
<div class="t c" style="top:981px;left:784.40px;">67</div>
<div class="t c" style="top:1009px;left:199.70px;">14</div>
<div class="t c" style="top:1009px;left:288.00px;">9/16&quot;</div>
<div class="t c" style="top:1009px;left:406.20px;letter-spacing:0.75px;">GC150-14</div>
<div class="t c" style="top:1009px;left:580.00px;">14.8</div>
<div class="t c" style="top:1009px;left:681.40px;">30.5</div>
<div class="t c" style="top:1009px;left:784.40px;">67</div>
<div class="t c" style="top:1037px;left:199.70px;">16</div>
<div class="t c" style="top:1037px;left:288.00px;">5/8&quot;</div>
<div class="t c" style="top:1037px;left:406.20px;letter-spacing:0.75px;">GC150-16</div>
<div class="t c" style="top:1037px;left:580.00px;">16.5</div>
<div class="t c" style="top:1037px;left:681.40px;">30.5</div>
<div class="t c" style="top:1037px;left:784.40px;">71.4</div>
<div class="t c" style="top:1065px;left:199.70px;">20</div>
<div class="t c" style="top:1065px;left:288.00px;">3/4&quot;</div>
<div class="t c" style="top:1065px;left:406.20px;letter-spacing:0.75px;">GC150-20</div>
<div class="t c" style="top:1065px;left:580.00px;">20.9</div>
<div class="t c" style="top:1065px;left:681.40px;">30.5</div>
<div class="t c" style="top:1065px;left:784.40px;">71.4</div>
<div class="t c" style="top:995px;left:707.00px;width:400px;text-align:center;">21.2</div>
<div class="t c" style="top:995px;left:808.85px;width:400px;text-align:center;">16.5</div>
<div class="t c" style="top:995px;left:911.90px;width:400px;text-align:center;">27</div>
<div class="t c" style="top:1137px;left:-114.30px;width:400px;text-align:center;letter-spacing:0.05px;">300/350 MCM</div>
<div class="t c" style="top:1161px;left:-114.30px;width:400px;text-align:center;letter-spacing:0px;">185 mm<sup>2</sup></div>
<div class="t c" style="top:1093px;left:199.70px;">10</div>
<div class="t c" style="top:1093px;left:288.00px;">3/8&quot;</div>
<div class="t c" style="top:1093px;left:406.20px;letter-spacing:0.75px;">GC185-10</div>
<div class="t c" style="top:1093px;left:580.00px;">10.3</div>
<div class="t c" style="top:1093px;left:681.40px;">34</div>
<div class="t c" style="top:1093px;left:784.40px;">73</div>
<div class="t c" style="top:1121px;left:199.70px;">12</div>
<div class="t c" style="top:1121px;left:288.00px;">1/2&quot;</div>
<div class="t c" style="top:1121px;left:406.20px;letter-spacing:0.75px;">GC185-12</div>
<div class="t c" style="top:1121px;left:580.00px;">12.7</div>
<div class="t c" style="top:1121px;left:681.40px;">34</div>
<div class="t c" style="top:1121px;left:784.40px;">73</div>
<div class="t c" style="top:1149px;left:199.70px;">14</div>
<div class="t c" style="top:1149px;left:288.00px;">9/16&quot;</div>
<div class="t c" style="top:1149px;left:406.20px;letter-spacing:0.75px;">GC185-14</div>
<div class="t c" style="top:1149px;left:580.00px;">14.8</div>
<div class="t c" style="top:1149px;left:681.40px;">34</div>
<div class="t c" style="top:1149px;left:784.40px;">73</div>
<div class="t c" style="top:1177px;left:199.70px;">16</div>
<div class="t c" style="top:1177px;left:288.00px;">5/8&quot;</div>
<div class="t c" style="top:1177px;left:406.20px;letter-spacing:0.75px;">GC185-16</div>
<div class="t c" style="top:1177px;left:580.00px;">16.5</div>
<div class="t c" style="top:1177px;left:681.40px;">34</div>
<div class="t c" style="top:1177px;left:784.40px;">76.2</div>
<div class="t c" style="top:1205px;left:199.70px;">20</div>
<div class="t c" style="top:1205px;left:288.00px;">3/4&quot;</div>
<div class="t c" style="top:1205px;left:406.20px;letter-spacing:0.75px;">GC185-20</div>
<div class="t c" style="top:1205px;left:580.00px;">20.9</div>
<div class="t c" style="top:1205px;left:681.40px;">34</div>
<div class="t c" style="top:1205px;left:784.40px;">76.2</div>
<div class="t c" style="top:1149px;left:707.00px;width:400px;text-align:center;">23</div>
<div class="t c" style="top:1149px;left:808.85px;width:400px;text-align:center;">19</div>
<div class="t c" style="top:1149px;left:911.90px;width:400px;text-align:center;">30</div>
<div class="t c" style="top:1277px;left:-114.30px;width:400px;text-align:center;letter-spacing:0.05px;">400/500 MCM</div>
<div class="t c" style="top:1301px;left:-114.30px;width:400px;text-align:center;letter-spacing:0px;">240 mm<sup>2</sup></div>
<div class="t c" style="top:1233px;left:199.70px;">10</div>
<div class="t c" style="top:1233px;left:288.00px;">3/8&quot;</div>
<div class="t c" style="top:1233px;left:406.20px;letter-spacing:0.75px;">GC240-10</div>
<div class="t c" style="top:1233px;left:580.00px;">10.3</div>
<div class="t c" style="top:1233px;left:681.40px;">38.6</div>
<div class="t c" style="top:1233px;left:784.40px;">91.4</div>
<div class="t c" style="top:1261px;left:199.70px;">12</div>
<div class="t c" style="top:1261px;left:288.00px;">1/2&quot;</div>
<div class="t c" style="top:1261px;left:406.20px;letter-spacing:0.75px;">GC240-12</div>
<div class="t c" style="top:1261px;left:580.00px;">12.7</div>
<div class="t c" style="top:1261px;left:681.40px;">38.6</div>
<div class="t c" style="top:1261px;left:784.40px;">91.4</div>
<div class="t c" style="top:1290px;left:199.70px;">14</div>
<div class="t c" style="top:1290px;left:288.00px;">9/16&quot;</div>
<div class="t c" style="top:1290px;left:406.20px;letter-spacing:0.75px;">GC240-14</div>
<div class="t c" style="top:1290px;left:580.00px;">14.8</div>
<div class="t c" style="top:1290px;left:681.40px;">38.6</div>
<div class="t c" style="top:1290px;left:784.40px;">91.4</div>
<div class="t c" style="top:1317px;left:199.70px;">16</div>
<div class="t c" style="top:1317px;left:288.00px;">5/8&quot;</div>
<div class="t c" style="top:1317px;left:406.20px;letter-spacing:0.75px;">GC240-16</div>
<div class="t c" style="top:1317px;left:580.00px;">16.5</div>
<div class="t c" style="top:1317px;left:681.40px;">38.6</div>
<div class="t c" style="top:1317px;left:784.40px;">91.4</div>
<div class="t c" style="top:1346px;left:199.70px;">20</div>
<div class="t c" style="top:1346px;left:288.00px;">3/4&quot;</div>
<div class="t c" style="top:1346px;left:406.20px;letter-spacing:0.75px;">GC240-20</div>
<div class="t c" style="top:1346px;left:580.00px;">20.9</div>
<div class="t c" style="top:1346px;left:681.40px;">38.6</div>
<div class="t c" style="top:1346px;left:784.40px;">91.4</div>
<div class="t c" style="top:1289px;left:707.00px;width:400px;text-align:center;">26.5</div>
<div class="t c" style="top:1289px;left:808.85px;width:400px;text-align:center;">21</div>
<div class="t c" style="top:1289px;left:911.90px;width:400px;text-align:center;">38</div>
<div class="t c" style="top:1417px;left:-114.30px;width:400px;text-align:center;letter-spacing:0.05px;">500/600 MCM</div>
<div class="t c" style="top:1441px;left:-114.30px;width:400px;text-align:center;letter-spacing:0px;">300 mm<sup>2</sup></div>
<div class="t c" style="top:1373px;left:199.70px;">10</div>
<div class="t c" style="top:1373px;left:288.00px;">3/8&quot;</div>
<div class="t c" style="top:1373px;left:406.20px;letter-spacing:0.75px;">GC300-10</div>
<div class="t c" style="top:1373px;left:580.00px;">10.3</div>
<div class="t c" style="top:1373px;left:681.40px;">43.8</div>
<div class="t c" style="top:1373px;left:784.40px;">98</div>
<div class="t c" style="top:1401px;left:199.70px;">12</div>
<div class="t c" style="top:1401px;left:288.00px;">1/2&quot;</div>
<div class="t c" style="top:1401px;left:406.20px;letter-spacing:0.75px;">GC300-12</div>
<div class="t c" style="top:1401px;left:580.00px;">12.7</div>
<div class="t c" style="top:1401px;left:681.40px;">43.8</div>
<div class="t c" style="top:1401px;left:784.40px;">98</div>
<div class="t c" style="top:1429px;left:199.70px;">14</div>
<div class="t c" style="top:1429px;left:288.00px;">9/16&quot;</div>
<div class="t c" style="top:1429px;left:406.20px;letter-spacing:0.75px;">GC300-14</div>
<div class="t c" style="top:1429px;left:580.00px;">14.8</div>
<div class="t c" style="top:1429px;left:681.40px;">43.8</div>
<div class="t c" style="top:1429px;left:784.40px;">98</div>
<div class="t c" style="top:1457px;left:199.70px;">16</div>
<div class="t c" style="top:1457px;left:288.00px;">5/8&quot;</div>
<div class="t c" style="top:1457px;left:406.20px;letter-spacing:0.75px;">GC300-16</div>
<div class="t c" style="top:1457px;left:580.00px;">16.5</div>
<div class="t c" style="top:1457px;left:681.40px;">43.8</div>
<div class="t c" style="top:1457px;left:784.40px;">98</div>
<div class="t c" style="top:1484px;left:199.70px;">20</div>
<div class="t c" style="top:1484px;left:288.00px;">3/4&quot;</div>
<div class="t c" style="top:1484px;left:406.20px;letter-spacing:0.75px;">GC300-20</div>
<div class="t c" style="top:1484px;left:580.00px;">20.9</div>
<div class="t c" style="top:1484px;left:681.40px;">43.8</div>
<div class="t c" style="top:1484px;left:784.40px;">98</div>
<div class="t c" style="top:1429px;left:707.00px;width:400px;text-align:center;">30</div>
<div class="t c" style="top:1429px;left:808.85px;width:400px;text-align:center;">24.5</div>
<div class="t c" style="top:1429px;left:911.90px;width:400px;text-align:center;">42</div>
<div class="t c" style="top:1556px;left:-114.30px;width:400px;text-align:center;letter-spacing:0.05px;">600/750 MCM</div>
<div class="t c" style="top:1580px;left:-114.30px;width:400px;text-align:center;letter-spacing:0px;">400 mm<sup>2</sup></div>
<div class="t c" style="top:1512px;left:199.70px;">10</div>
<div class="t c" style="top:1512px;left:288.00px;">3/8&quot;</div>
<div class="t c" style="top:1512px;left:406.20px;letter-spacing:0.75px;">GC400-10</div>
<div class="t c" style="top:1512px;left:580.00px;">10.3</div>
<div class="t c" style="top:1512px;left:681.40px;">50</div>
<div class="t c" style="top:1512px;left:784.40px;">104</div>
<div class="t c" style="top:1540px;left:199.70px;">12</div>
<div class="t c" style="top:1540px;left:288.00px;">1/2&quot;</div>
<div class="t c" style="top:1540px;left:406.20px;letter-spacing:0.75px;">GC400-12</div>
<div class="t c" style="top:1540px;left:580.00px;">12.7</div>
<div class="t c" style="top:1540px;left:681.40px;">50</div>
<div class="t c" style="top:1540px;left:784.40px;">104</div>
<div class="t c" style="top:1569px;left:199.70px;">14</div>
<div class="t c" style="top:1569px;left:288.00px;">9/16&quot;</div>
<div class="t c" style="top:1569px;left:406.20px;letter-spacing:0.75px;">GC400-14</div>
<div class="t c" style="top:1569px;left:580.00px;">14.8</div>
<div class="t c" style="top:1569px;left:681.40px;">50</div>
<div class="t c" style="top:1569px;left:784.40px;">104</div>
<div class="t c" style="top:1596px;left:199.70px;">16</div>
<div class="t c" style="top:1596px;left:288.00px;">5/8&quot;</div>
<div class="t c" style="top:1596px;left:406.20px;letter-spacing:0.75px;">GC400-16</div>
<div class="t c" style="top:1596px;left:580.00px;">16.5</div>
<div class="t c" style="top:1596px;left:681.40px;">50</div>
<div class="t c" style="top:1596px;left:784.40px;">104</div>
<div class="t c" style="top:1623px;left:199.70px;">20</div>
<div class="t c" style="top:1623px;left:288.00px;">3/4&quot;</div>
<div class="t c" style="top:1623px;left:406.20px;letter-spacing:0.75px;">GC400-20</div>
<div class="t c" style="top:1623px;left:580.00px;">20.9</div>
<div class="t c" style="top:1623px;left:681.40px;">50</div>
<div class="t c" style="top:1623px;left:784.40px;">104</div>
<div class="t c" style="top:1568px;left:707.00px;width:400px;text-align:center;">35</div>
<div class="t c" style="top:1568px;left:808.85px;width:400px;text-align:center;">27</div>
<div class="t c" style="top:1568px;left:911.90px;width:400px;text-align:center;">44</div>
<div class="t h" style="top:265px;left:-114.40px;width:400px;text-align:center;font-size:18px;"><span class="cj" style="-webkit-text-stroke:0.2px #231815;font-size:18.2px;letter-spacing:0.3px">接线范围</span></div>
<div class="t h" style="top:293px;left:-114.10px;width:400px;text-align:center;font-size:18px;letter-spacing:0px;">mm<sup style="top:-8px;font-size:9.5px;margin-left:0.6px">2</sup></div>
<div class="t h" style="top:313px;left:-113.80px;width:400px;text-align:center;font-size:18.3px;letter-spacing:0.65px;">(A.W.G.)</div>
<div class="t h" style="top:264px;left:61.00px;width:400px;text-align:center;font-size:18px;letter-spacing:0.7px;word-spacing:3.6px;">STUD SIZE <span class="cj" style="-webkit-text-stroke:0.2px #231815;font-size:18.5px;letter-spacing:0.4px">螺栓孔</span></div>
<div class="t h" style="top:304px;left:10.70px;width:400px;text-align:center;font-size:18.5px;letter-spacing:0.7px;">Metrie</div>
<div class="t h" style="top:304px;left:112.00px;width:400px;text-align:center;font-size:18.5px;letter-spacing:0.7px;">American</div>
<div class="t h" style="top:275px;left:255.40px;width:400px;text-align:center;font-size:18.2px;letter-spacing:0.45px;">ITEM NO.</div>
<div class="t h" style="top:297px;left:255.40px;width:400px;text-align:center;font-size:18px;"><span class="cj" style="-webkit-text-stroke:0.2px #231815;font-size:18.5px;letter-spacing:0.5px">品名型号</span></div>
<div class="t h" style="top:264px;left:656.30px;width:400px;text-align:center;font-size:18px;letter-spacing:0.8px;word-spacing:-1.5px;"><span class="cj" style="-webkit-text-stroke:0.2px #231815;font-size:18.5px;letter-spacing:0.3px">尺寸</span>DIMENSIONS (mm)</div>
<div class="t h" style="top:304px;left:400.00px;width:400px;text-align:center;font-size:18px;letter-spacing:0px;"><span class="dia">Ø</span>E</div>
<div class="t h" style="top:304px;left:502.00px;width:400px;text-align:center;font-size:18px;letter-spacing:0px;">W</div>
<div class="t h" style="top:304px;left:604.30px;width:400px;text-align:center;font-size:18px;letter-spacing:0px;">L</div>
<div class="t h" style="top:304px;left:707.30px;width:400px;text-align:center;font-size:18px;letter-spacing:0px;"><span class="dia">Ø</span>D</div>
<div class="t h" style="top:304px;left:809.50px;width:400px;text-align:center;font-size:18px;letter-spacing:0px;"><span class="dia">Ø</span>d</div>
<div class="t h" style="top:304px;left:911.50px;width:400px;text-align:center;font-size:18px;letter-spacing:0px;">B</div>
<div class="t h" style="top:30px;left:11.00px;font-size:26px;letter-spacing:1px;-webkit-text-stroke:0.15px #231815;">GC<span class="cj" style="font-size:27px;letter-spacing:3.5px;font-weight:400;position:relative;top:2.2px;">喇叭口</span><span style="display:inline-block;width:11.5px"></span><span class="cj" style="font-size:27px;letter-spacing:3.5px;font-weight:400;position:relative;top:2.2px;">铜管端子</span></div>
<div class="t h" style="top:64px;left:11.00px;font-size:23.4px;letter-spacing:0.08px;-webkit-text-stroke:0;">COPPER TUBE TERMINALS</div>
<div class="t h" style="top:116px;left:12.00px;font-size:15px;letter-spacing:0px;-webkit-text-stroke:0;">.<span class="cj" style="font-size:15px;letter-spacing:1.65px;margin-left:2.6px;">端子材质：紫铜</span></div>
<div class="t h" style="top:142px;left:12.00px;font-size:15px;letter-spacing:0px;-webkit-text-stroke:0;">.<span class="cj" style="font-size:15px;letter-spacing:1.65px;margin-left:2.6px;">表面处理：镀锡</span></div>
<div class="t h" style="top:168px;left:12.00px;font-size:15px;letter-spacing:0px;-webkit-text-stroke:0;">.<span class="cj" style="font-size:15px;letter-spacing:1.65px;margin-left:2.6px;">特殊结构：喇叭口</span></div>
<div class="t h" style="top:194px;left:12.00px;font-size:15px;letter-spacing:0px;-webkit-text-stroke:0;">.<span class="cj" style="font-size:15px;letter-spacing:1.65px;margin-left:2.6px;">可接受异形定制</span></div>
<div class="t h" style="top:115px;left:211.00px;font-size:16px;letter-spacing:0.32px;-webkit-text-stroke:0.12px #231815;">Terminals material:Copper</div>
<div class="t h" style="top:140px;left:210.00px;font-size:16px;letter-spacing:0.32px;-webkit-text-stroke:0.12px #231815;">Plating:Tin plated</div>
<div class="t h" style="top:166px;left:210.60px;font-size:16px;letter-spacing:0.32px;-webkit-text-stroke:0.12px #231815;">Special structure:Bell mouth</div>
<div class="t h" style="top:192px;left:211.00px;font-size:16px;letter-spacing:0.32px;-webkit-text-stroke:0.12px #231815;">Acceptable customization</div>
<div class="t h" style="top:33px;left:786.30px;font-size:14.5px;letter-spacing:0px;-webkit-text-stroke:0.18px #231815;">B</div>
<div class="t h" style="top:35px;left:902.60px;font-size:14.5px;letter-spacing:0px;-webkit-text-stroke:0.18px #231815;"><span class="dia2">Ø</span>D</div>
<div class="t h" style="top:44px;left:876.80px;font-size:14.5px;letter-spacing:0px;-webkit-text-stroke:0.18px #231815;"><span class="dia2">Ø</span>d</div>
<div class="t h" style="top:99px;left:643.60px;font-size:14.5px;letter-spacing:0px;-webkit-text-stroke:0.18px #231815;"><span class="dia2">Ø</span>E</div>
<div class="t h" style="top:193px;left:656.40px;font-size:14.5px;letter-spacing:0px;-webkit-text-stroke:0.18px #231815;">W</div>
<div class="t h" style="top:159px;left:840.20px;font-size:14.5px;letter-spacing:0px;-webkit-text-stroke:0.18px #231815;">L</div>
</body>
</html>
